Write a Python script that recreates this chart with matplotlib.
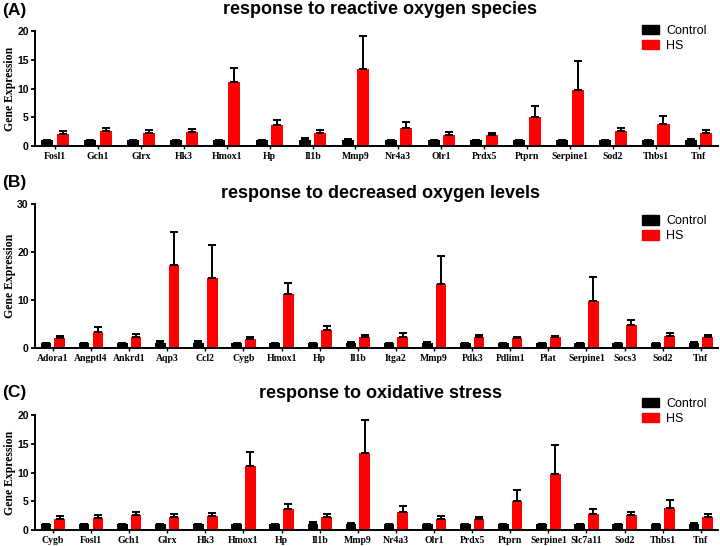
import numpy as np
import matplotlib
matplotlib.use("Agg")
import matplotlib.pyplot as plt
from matplotlib.patches import Patch

# panel A - response to reactive oxygen species
genes_a = ["Fosl1", "Gch1", "Glrx", "Hk3", "Hmox1", "Hp", "Il1b", "Mmp9", "Nr4a3",
           "Olr1", "Prdx5", "Ptprn", "Serpine1", "Sod2", "Thbs1", "Tnf"]
ctrl_a = [1.0, 1.0, 1.0, 1.0, 1.0, 1.0, 1.1, 1.1, 1.0, 1.0, 1.0, 1.0, 1.0, 1.0, 1.0, 1.1]
ctrl_err_a = [0.1, 0.1, 0.1, 0.1, 0.1, 0.1, 0.25, 0.1, 0.1, 0.1, 0.1, 0.1, 0.1, 0.1, 0.1, 0.1]
hs_a = [2.1, 2.6, 2.2, 2.4, 11.2, 3.7, 2.3, 13.4, 3.2, 2.0, 2.0, 5.1, 9.7, 2.6, 3.9, 2.2]
hs_err_a = [0.45, 0.45, 0.5, 0.6, 2.4, 0.9, 0.5, 5.7, 1.0, 0.4, 0.3, 1.9, 5.0, 0.6, 1.3, 0.5]

# panel B - response to decreased oxygen levels
genes_b = ["Adora1", "Angptl4", "Ankrd1", "Aqp3", "Ccl2", "Cygb", "Hmox1", "Hp", "Il1b",
           "Itga2", "Mmp9", "Pdk3", "Pdlim1", "Plat", "Serpine1", "Socs3", "Sod2", "Tnf"]
ctrl_b = [1.0, 1.0, 1.0, 1.0, 1.0, 1.0, 1.0, 1.0, 1.1, 1.0, 1.1, 1.0, 1.0, 1.0, 1.0, 1.0, 1.0, 1.1]
ctrl_err_b = [0.1, 0.1, 0.1, 0.5, 0.5, 0.1, 0.1, 0.1, 0.25, 0.1, 0.1, 0.1, 0.1, 0.1, 0.1, 0.1, 0.1, 0.1]
hs_b = [2.0, 3.3, 2.4, 17.2, 14.5, 1.9, 11.3, 3.7, 2.3, 2.4, 13.4, 2.2, 2.0, 2.2, 9.7, 4.8, 2.6, 2.3]
hs_err_b = [0.6, 1.0, 0.6, 7.0, 6.9, 0.5, 2.3, 0.9, 0.5, 0.8, 5.8, 0.6, 0.4, 0.4, 5.1, 1.1, 0.5, 0.5]

# panel C - response to oxidative stress
genes_c = ["Cygb", "Fosl1", "Gch1", "Glrx", "Hk3", "Hmox1", "Hp", "Il1b", "Mmp9", "Nr4a3",
           "Olr1", "Prdx5", "Ptprn", "Serpine1", "Slc7a11", "Sod2", "Thbs1", "Tnf"]
ctrl_c = [1.0, 1.0, 1.0, 1.0, 1.0, 1.0, 1.0, 1.1, 1.1, 1.0, 1.0, 1.0, 1.0, 1.0, 1.0, 1.0, 1.0, 1.1]
ctrl_err_c = [0.1, 0.1, 0.1, 0.1, 0.1, 0.1, 0.1, 0.25, 0.1, 0.1, 0.1, 0.1, 0.1, 0.1, 0.1, 0.1, 0.1, 0.1]
hs_c = [1.9, 2.1, 2.6, 2.2, 2.4, 11.2, 3.7, 2.3, 13.4, 3.2, 2.0, 2.0, 5.1, 9.7, 2.8, 2.6, 3.9, 2.2]
hs_err_c = [0.45, 0.45, 0.45, 0.5, 0.6, 2.4, 0.9, 0.5, 5.7, 1.0, 0.4, 0.3, 1.9, 5.0, 0.9, 0.6, 1.3, 0.5]

H = 546.0
# tag, title, data..., yticks, axes rect, tag y (px), title y (px), legend anchor y
panels = [
    ("(A)", "response to reactive oxygen species", genes_a, ctrl_a, ctrl_err_a, hs_a, hs_err_a,
     [0, 5, 10, 15, 20], [0.0486, 0.7326, 0.9486, 0.2106], 10, 10, 1.15),
    ("(B)", "response to decreased oxygen levels", genes_b, ctrl_b, ctrl_err_b, hs_b, hs_err_b,
     [0, 10, 20, 30], [0.0486, 0.3626, 0.9486, 0.2637], 183, 193, 1.0),
    ("(C)", "response to oxidative stress", genes_c, ctrl_c, ctrl_err_c, hs_c, hs_err_c,
     [0, 5, 10, 15, 20], [0.0486, 0.0293, 0.9486, 0.2106], 393, 393, 1.25),
]

fig = plt.figure(figsize=(7.2, 5.46), dpi=100)

serif = ["Liberation Serif", "DejaVu Serif"]
sans = ["Liberation Sans", "DejaVu Sans"]

for tag, title, genes, ctrl, ctrl_err, hs, hs_err, yticks, rect, tag_y, title_y, leg_y in panels:
    ax = fig.add_axes(rect)
    x = np.arange(len(genes))
    w = 0.28
    off = 0.18
    ekw = dict(elinewidth=1.4, capthick=1.4, ecolor="black")
    ax.bar(x - off, ctrl, w, color="black", yerr=[np.zeros(len(ctrl)), ctrl_err],
           capsize=3, error_kw=ekw, label="Control")
    ax.bar(x + off, hs, w, color="#ff0000", yerr=[np.zeros(len(hs)), hs_err],
           capsize=3, error_kw=ekw, label="HS")

    ax.set_xlim(-0.47, len(genes) - 0.55)
    ax.set_ylim(0, yticks[-1])
    ax.set_yticks(yticks)
    ax.set_xticks(x)
    ax.set_xticklabels(genes, family=serif, fontweight="bold", fontsize=7)
    for lab in ax.get_yticklabels():
        lab.set_family(sans)
        lab.set_fontweight("bold")
        lab.set_fontsize(7.5)
    ax.tick_params(axis="y", length=3, width=1.3, pad=1.5)
    ax.tick_params(axis="x", length=2.5, width=1.0, pad=2)
    for side in ["top", "right"]:
        ax.spines[side].set_visible(False)
    for side in ["left", "bottom"]:
        ax.spines[side].set_linewidth(1.4)
    ax.set_ylabel("Gene Expression", family=serif, fontweight="bold", fontsize=8.5, labelpad=1)

    handles = [Patch(color="black"), Patch(color="#ff0000")]
    ax.legend(handles, ["Control", "HS"], loc="upper right", bbox_to_anchor=(1.0, leg_y),
              frameon=False, prop={"family": sans, "size": 9}, handlelength=1.3,
              handleheight=0.75, labelspacing=0.25, handletextpad=0.6)

    fig.text(0.003, 1 - tag_y / H, tag, family=sans, fontweight="bold", fontsize=12.5, va="center")
    fig.text(0.528, 1 - title_y / H, title, family=sans, fontweight="bold", fontsize=13,
             ha="center", va="center")

fig.savefig("out.png", dpi=100)
